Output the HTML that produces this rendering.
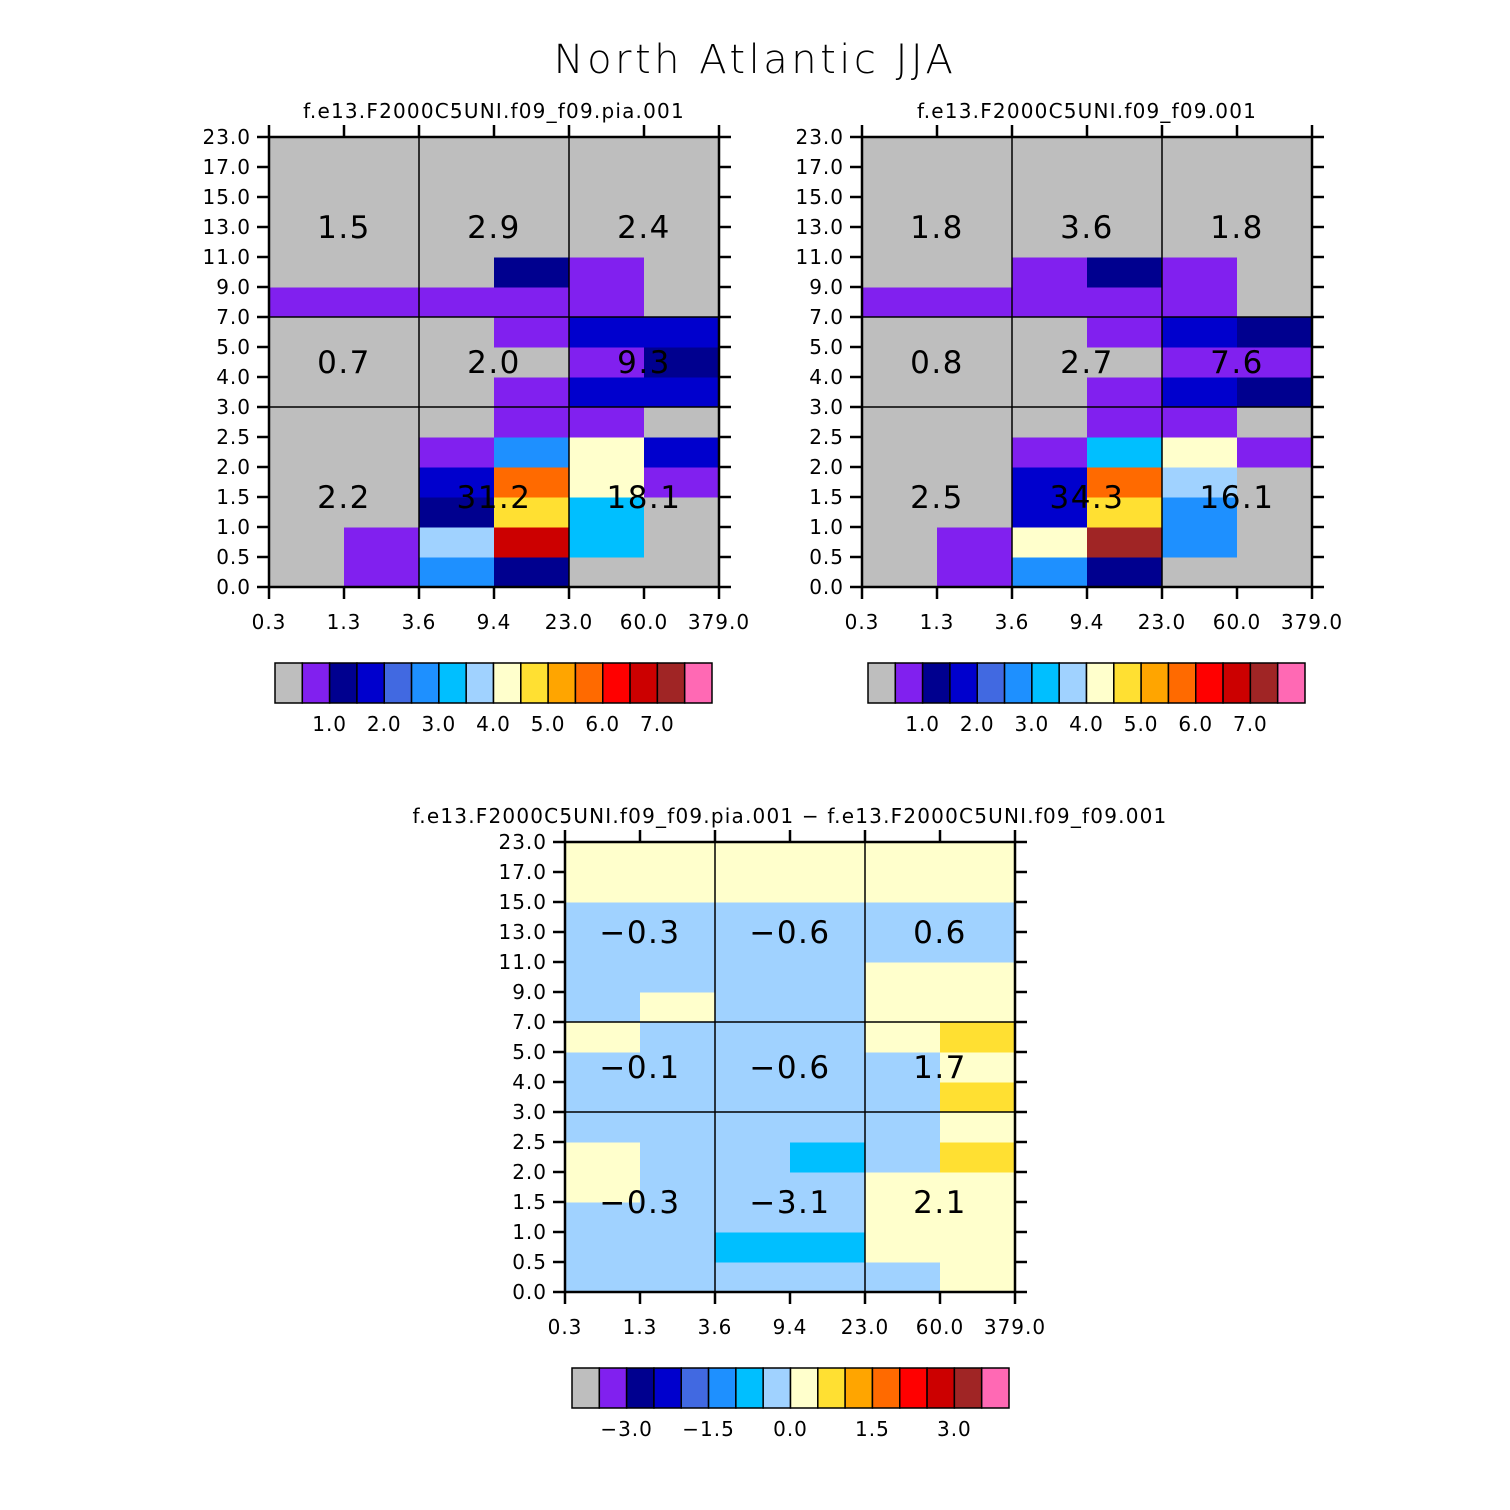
<!DOCTYPE html>
<html><head><meta charset="utf-8"><style>
html,body{margin:0;padding:0;background:#fff;}
svg{display:block;font-family:"DejaVu Sans","Liberation Sans",sans-serif;}
</style></head><body>
<svg id="s" width="1510" height="1510" viewBox="0 0 1510 1510">
<text x="755" y="73" text-anchor="middle" font-size="40" font-weight="300" letter-spacing="3.5">North Atlantic JJA</text>
</svg>
<script>
const palette=["#bebebe","#8120ef","#00008f","#0000cd","#4169e1","#1e90ff","#00bfff","#a0d2ff","#ffffcc","#ffe032","#ffa500","#ff6a00","#ff0000","#cc0000","#a02525","#ff69b4"];
const xTicks=["0.3","1.3","3.6","9.4","23.0","60.0","379.0"];
const yTicks=["0.0","0.5","1.0","1.5","2.0","2.5","3.0","4.0","5.0","7.0","9.0","11.0","13.0","15.0","17.0","23.0"];
const cells1=[[0,1,5,2,0,0],[0,1,7,13,6,0],[0,0,2,9,6,0],[0,0,3,11,8,1],[0,0,1,5,8,3],[0,0,0,1,1,0],[0,0,0,1,3,3],[0,0,0,0,1,2],[0,0,0,1,3,3],[1,1,1,1,1,0],[0,0,0,2,1,0],[0,0,0,0,0,0],[0,0,0,0,0,0],[0,0,0,0,0,0],[0,0,0,0,0,0]];
const cells2=[[0,1,5,2,0,0],[0,1,8,14,5,0],[0,0,3,9,5,0],[0,0,3,11,7,0],[0,0,1,6,8,1],[0,0,0,1,1,0],[0,0,0,1,3,2],[0,0,0,0,1,1],[0,0,0,1,3,2],[1,1,1,1,1,0],[0,0,1,2,1,0],[0,0,0,0,0,0],[0,0,0,0,0,0],[0,0,0,0,0,0],[0,0,0,0,0,0]];
const cells3=[[7,7,7,7,7,8],[7,7,6,6,8,8],[7,7,7,7,8,8],[8,7,7,7,8,8],[8,7,7,6,7,9],[7,7,7,7,7,8],[7,7,7,7,7,9],[7,7,7,7,7,8],[8,7,7,7,8,9],[7,8,7,7,8,8],[7,7,7,7,8,8],[7,7,7,7,7,7],[7,7,7,7,7,7],[8,8,8,8,8,8],[8,8,8,8,8,8]];
const blocks1=[["2.2","31.2","18.1"],["0.7","2.0","9.3"],["1.5","2.9","2.4"]];
const blocks2=[["2.5","34.3","16.1"],["0.8","2.7","7.6"],["1.8","3.6","1.8"]];
const blocks3=[["\u22120.3","\u22123.1","2.1"],["\u22120.1","\u22120.6","1.7"],["\u22120.3","\u22120.6","0.6"]];
const cbLabels12=["1.0","2.0","3.0","4.0","5.0","6.0","7.0"];
const cbLabels3=["\u22123.0","\u22121.5","0.0","1.5","3.0"];
const NS="http://www.w3.org/2000/svg";
const svg=document.getElementById('s');
function mk(t,a,p){const e=document.createElementNS(NS,t);for(const k in a)e.setAttribute(k,a[k]);(p||svg).appendChild(e);return e;}
function panel(name,x0,y0,title,cells,blocks){
  const g=mk('g',{});
  
  
  const W=450,H=450,cw=W/6,rh=H/15;
  const X=i=>x0+i*cw, Y=j=>y0+H-j*rh;
  const t=mk('text',{x:x0+W/2,y:y0-19,'text-anchor':'middle','font-size':20,'letter-spacing':1.2},g);t.textContent=title;
  
  
  cells.forEach((row,j)=>row.forEach((c,i)=>{
    const r=mk('rect',{x:X(i),y:Y(j+1),width:cw+0.5,height:rh+0.5,fill:palette[c]},g);
    
    
  }));
  [2,4].forEach(i=>mk('line',{x1:X(i),x2:X(i),y1:y0,y2:y0+H,stroke:'#000','stroke-width':1.5},g));
  [6,9].forEach(j=>mk('line',{x1:x0,x2:x0+W,y1:Y(j),y2:Y(j),stroke:'#000','stroke-width':1.5},g));
  [[0,6],[6,9],[9,15]].forEach((rr,b)=>{
    for(let k=0;k<3;k++){
      const tx=mk('text',{x:X(2*k+1),y:(Y(rr[0])+Y(rr[1]))/2+11,'text-anchor':'middle','font-size':31,'letter-spacing':1.5},g);
      tx.textContent=blocks[b][k];
      
      
    }
  });
  mk('rect',{x:x0,y:y0,width:W,height:H,fill:'none',stroke:'#000','stroke-width':2.5},g);
  xTicks.forEach((l,i)=>{
    mk('line',{x1:X(i),x2:X(i),y1:y0+H,y2:y0+H+12,stroke:'#000','stroke-width':2.5},g);
    mk('line',{x1:X(i),x2:X(i),y1:y0,y2:y0-12,stroke:'#000','stroke-width':2.5},g);
    const tx=mk('text',{x:X(i),y:y0+H+42,'text-anchor':'middle','font-size':20,'letter-spacing':1},g);tx.textContent=l;
    
    
  });
  yTicks.forEach((l,j)=>{
    mk('line',{x1:x0-12,x2:x0,y1:Y(j),y2:Y(j),stroke:'#000','stroke-width':2.5},g);
    mk('line',{x1:x0+W,x2:x0+W+12,y1:Y(j),y2:Y(j),stroke:'#000','stroke-width':2.5},g);
    const tx=mk('text',{x:x0-18,y:Y(j)+7,'text-anchor':'end','font-size':20,'letter-spacing':1},g);tx.textContent=l;
    
    
  });
}
function colorbar(name,x0,y0,labels,startB,step){
  const g=mk('g',{});
  
  
  const bw=437/16;
  palette.forEach((c,i)=>{
    const r=mk('rect',{x:x0+i*bw,y:y0,width:bw,height:40,fill:c,stroke:'#000','stroke-width':1.5},g);
    
    
  });
  labels.forEach((l,k)=>{
    const tx=mk('text',{x:x0+(startB+k*step)*bw,y:y0+68,'text-anchor':'middle','font-size':20,'letter-spacing':1},g);tx.textContent=l;
    
    
  });
}
panel('panel-pia',269,137,'f.e13.F2000C5UNI.f09_f09.pia.001',cells1,blocks1);
panel('panel-control',862,137,'f.e13.F2000C5UNI.f09_f09.001',cells2,blocks2);
panel('panel-diff',565,842,'f.e13.F2000C5UNI.f09_f09.pia.001 \u2212 f.e13.F2000C5UNI.f09_f09.001',cells3,blocks3);
colorbar('colorbar-pia',275,663,cbLabels12,2,2);
colorbar('colorbar-control',868,663,cbLabels12,2,2);
colorbar('colorbar-diff',572,1368,cbLabels3,2,3);
</script>
</body></html>
